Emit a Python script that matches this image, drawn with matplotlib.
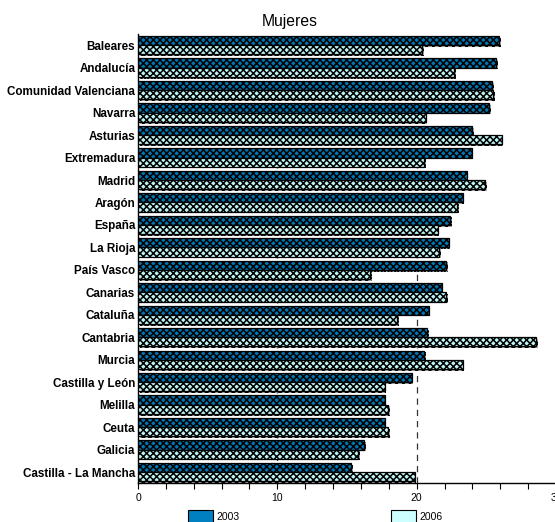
import numpy as np
import matplotlib
matplotlib.use("Agg")
import matplotlib.pyplot as plt
import matplotlib.patheffects as pe
from matplotlib.patches import Patch
from matplotlib.ticker import MultipleLocator

plt.rcParams['font.family'] = ['Liberation Sans', 'DejaVu Sans']
plt.rcParams['hatch.linewidth'] = 1.1

regions = ["Baleares", "Andalucía", "Comunidad Valenciana", "Navarra", "Asturias",
           "Extremadura", "Madrid", "Aragón", "España", "La Rioja", "País Vasco",
           "Canarias", "Cataluña", "Cantabria", "Murcia", "Castilla y León",
           "Melilla", "Ceuta", "Galicia", "Castilla - La Mancha"]
values_2003 = [25.9, 25.7, 25.4, 25.2, 24.0, 23.95, 23.6, 23.3, 22.4, 22.3, 22.1,
               21.8, 20.85, 20.75, 20.55, 19.65, 17.7, 17.7, 16.25, 15.3]
values_2006 = [20.4, 22.7, 25.5, 20.65, 26.1, 20.55, 24.9, 22.9, 21.5, 21.6, 16.65,
               22.1, 18.6, 28.6, 23.3, 17.7, 17.95, 17.95, 15.8, 19.85]
series_labels = ["2003", "2006"]
colors = ["#0076B2", "#C0F4F4"]
legend_colors = ["#0080C0", "#CCFFFF"]

fig = plt.figure(figsize=(5.55, 5.22), dpi=100)
ax = fig.add_axes([138 / 555, 1 - 483.3 / 522, (556 - 138) / 555, (483.3 - 34) / 522])

y = np.arange(len(regions))
h = 0.41
shadow = [pe.SimplePatchShadow(offset=(1.2, -1.2), shadow_rgbFace='0.55', alpha=0.7), pe.Normal()]
for vals, col, off in [(values_2003, colors[0], -h / 2), (values_2006, colors[1], h / 2)]:
    bars = ax.barh(y + off, vals, height=h, color=col, edgecolor='black', linewidth=0.9,
                   hatch='xxxxx', zorder=3)
    for b in bars:
        b.set_path_effects(shadow)

ax.set_ylim(len(regions) - 0.5, -0.5)
ax.set_xlim(0, 30)
ax.set_yticks(y)
ax.set_yticklabels(regions, fontsize=8.4, fontweight='bold')
ax.tick_params(axis='y', length=0, pad=2)
ax.xaxis.set_major_locator(MultipleLocator(10))
ax.xaxis.set_minor_locator(MultipleLocator(2))
ax.tick_params(axis='x', which='major', length=4, width=0.8, labelsize=7.5, pad=3)
ax.tick_params(axis='x', which='minor', length=4, width=0.8)
for s in ['top', 'right']:
    ax.spines[s].set_visible(False)
for s in ['left', 'bottom']:
    ax.spines[s].set_linewidth(1.0)

for gx in (10, 20):
    ax.axvline(gx, color='0.2', lw=0.9, ls=(0, (5, 4)), zorder=1)

fig.text(0.5225, 0.958, "Mujeres", ha='center', va='center', fontsize=11.3)

handles = [Patch(facecolor=c, edgecolor='black', linewidth=0.8) for c in legend_colors]
fig.legend(handles, series_labels, loc='upper left', bbox_to_anchor=(188 / 555, 1 - 510 / 522),
           ncol=2, frameon=False, fontsize=7.5, borderpad=0, handlelength=2.4,
           handleheight=1.6, handletextpad=0.3, columnspacing=14.6, borderaxespad=0)

fig.savefig("out.png", dpi=100)
